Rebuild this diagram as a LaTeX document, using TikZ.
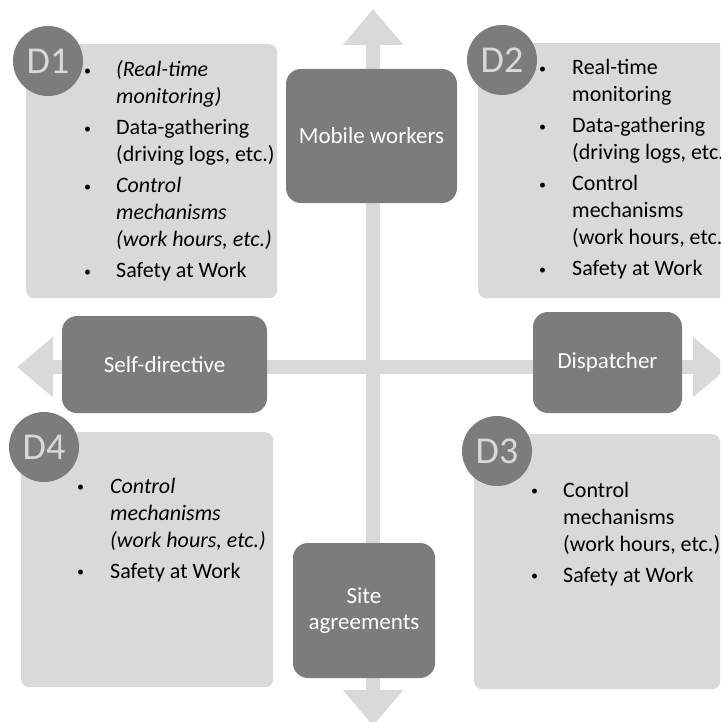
\documentclass[tikz,border=0pt]{standalone}
\usepackage{fontspec}
\setmainfont{Carlito}
\usetikzlibrary{arrows.meta,positioning,calc}
\definecolor{axisgray}{RGB}{217,217,217}
\definecolor{rolegray}{RGB}{124,124,124}
\definecolor{panelgray}{RGB}{217,217,217}
\newcommand{\itemdot}{{\fontsize{14}{14}\selectfont\raisebox{1.2pt}{\textbullet}}}

\begin{document}
\begin{tikzpicture}[x=1pt,y=-1pt,
  role/.style={fill=rolegray,rounded corners=15pt,text=white,align=center,inner sep=0pt,
    font=\fontsize{23}{26}\selectfont},
  panel/.style={fill=panelgray,rounded corners=8pt,anchor=north west,inner sep=0pt},
  tag/.style={circle,fill=rolegray,text=panelgray,minimum size=70pt,inner sep=0pt,
    font=\fontsize{38}{38}\selectfont},
  items/.style={anchor=base west,inner sep=0pt,align=left,font=\fontsize{22}{27}\selectfont},
  axis/.style={draw=axisgray,line width=14pt,
    {Triangle[length=36pt,width=58pt]}-{Triangle[length=36pt,width=58pt]}}]
\useasboundingbox (0,0) rectangle (720,722);
\clip (0,0) rectangle (720,722);

% the two axes
\coordinate (top) at (373,9);
\coordinate (bottom) at (373,726);
\coordinate (left) at (17,367);
\coordinate (right) at (729,367);
\draw[axis] (top) -- (bottom);
\draw[axis] (left) -- (right);

% panels
\node[panel,minimum width=251pt,minimum height=254pt] (d1) at (26,44) {};
\node[panel,minimum width=262pt,minimum height=255pt] (d2) at (478,43) {};
\node[panel,minimum width=246pt,minimum height=255pt] (d3) at (474,434) {};
\node[panel,minimum width=252pt,minimum height=255pt] (d4) at (21,432) {};

\node[tag] (d1tag) at ($(d1.north west)+(22,17)$) {D1};
\node[tag] (d2tag) at ($(d2.north west)+(24,17)$) {D2};
\node[tag] (d3tag) at ($(d3.north west)+(23,17)$) {D3};
\node[tag] (d4tag) at ($(d4.north west)+(23,15)$) {D4};

% the four roles
\node[role,minimum width=171pt,minimum height=134pt] (mobile) at (371.5,136) {Mobile workers};
\node[role,minimum width=205pt,minimum height=97pt] (self) at (164.5,364.5) {Self-directive};
\node[role,minimum width=149pt,minimum height=101pt] (dispatch) at (607.5,362.5) {Dispatcher};
\node[role,minimum width=142pt,minimum height=135pt] (site) at (364,610.5) {Site\\agreements};

% bullet lists
\node[items] (d1list) at (84,77) {\begin{tabular}[t]{@{}p{32pt}@{}l@{}}
\itemdot & \textit{(Real-time}\\
 & \textit{monitoring)}\\[4pt]
\itemdot & Data-gathering\\
 & (driving logs, etc.)\\[4pt]
\itemdot & \textit{Control}\\
 & \textit{mechanisms}\\
 & \textit{(work hours, etc.)}\\[4pt]
\itemdot & Safety at Work
\end{tabular}};
\node[items] (d2list) at (539,75) {\begin{tabular}[t]{@{}p{33pt}@{}l@{}}
\itemdot & Real-time\\
 & monitoring\\[4pt]
\itemdot & Data-gathering\\
 & (driving logs, etc.)\\[4pt]
\itemdot & Control\\
 & mechanisms\\
 & (work hours, etc.)\\[4pt]
\itemdot & Safety at Work
\end{tabular}};
\node[items] (d3list) at (531,497) {\begin{tabular}[t]{@{}p{32pt}@{}l@{}}
\itemdot & Control\\
 & mechanisms\\
 & (work hours, etc.)\\[4pt]
\itemdot & Safety at Work
\end{tabular}};
\node[items] (d4list) at (77,493) {\begin{tabular}[t]{@{}p{33pt}@{}l@{}}
\itemdot & \textit{Control}\\
 & \textit{mechanisms}\\
 & \textit{(work hours, etc.)}\\[4pt]
\itemdot & Safety at Work
\end{tabular}};
\end{tikzpicture}
\end{document}
